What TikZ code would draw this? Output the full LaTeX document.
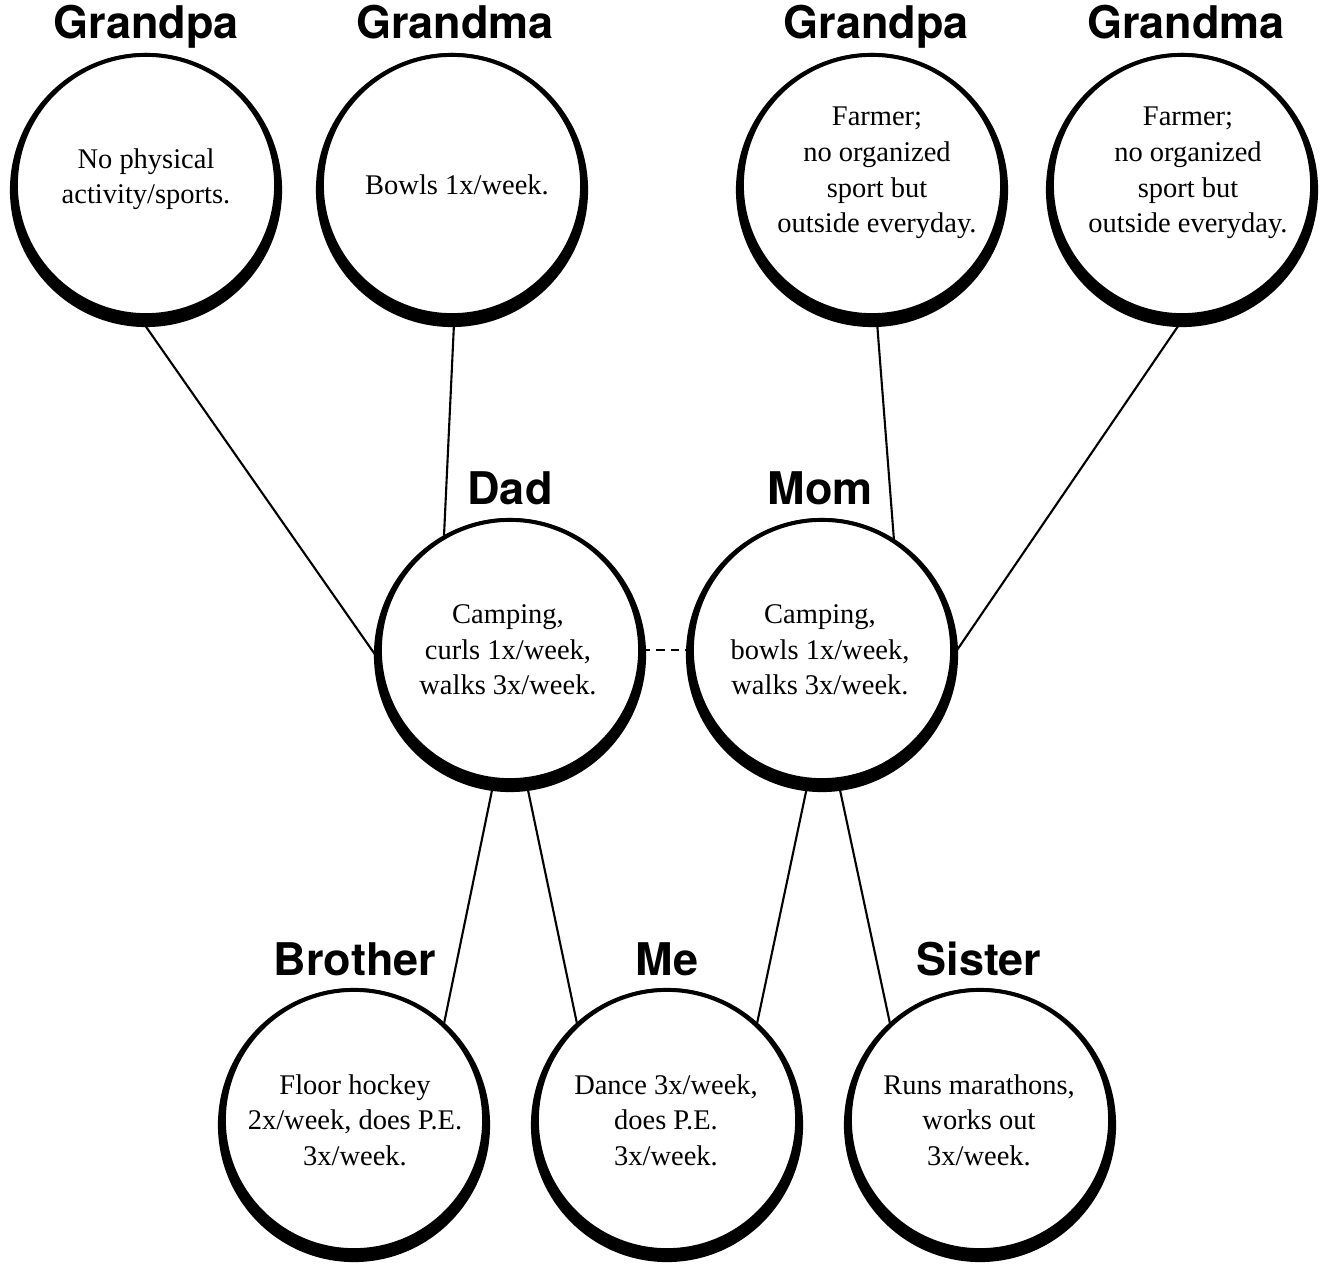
\documentclass[tikz,border=0pt]{standalone}
\usepackage{fontspec}
\setmainfont{Liberation Serif}
\newfontfamily\labfont{TeX Gyre Heros}
\begin{document}
\begin{tikzpicture}[x=0.01cm,y=-0.01cm,
  person/.style={circle,draw=black,line width=1.1pt,fill=white,minimum size=2.6cm,inner sep=0pt},
  txt/.style={align=center,inner sep=0pt,font=\fontsize{8.1}{10.1}\selectfont},
  lab/.style={anchor=base,inner sep=0pt,font=\labfont\bfseries\fontsize{12.8}{14}\selectfont},
  link/.style={line width=0.6pt},
  partner/.style={line width=0.6pt,dash pattern=on 2.3pt off 1.8pt},
  rim/.style={fill=black}]
\useasboundingbox (0,0) rectangle (1325,1264);
% centres
\coordinate (cgpl) at (146,185);
\coordinate (cgml) at (452,185);
\coordinate (cgpr) at (872,185);
\coordinate (cgmr) at (1182,185);
\coordinate (cdad) at (510,650);
\coordinate (cmom) at (822,650);
\coordinate (cbro) at (354,1120);
\coordinate (cme)  at (667,1120);
\coordinate (csis) at (980,1120);
% thick lower rims
\foreach \c in {cgpl,cgml,cgpr,cgmr,cdad,cmom,cbro,cme,csis}{
  \fill[rim] ([yshift=-0.05cm]\c) ellipse [x radius=1.36cm, y radius=1.37cm];
}
% circles
\node[person] (gpl) at (cgpl) {};
\node[person] (gml) at (cgml) {};
\node[person] (gpr) at (cgpr) {};
\node[person] (gmr) at (cgmr) {};
\node[person] (dad) at (cdad) {};
\node[person] (mom) at (cmom) {};
\node[person] (bro) at (cbro) {};
\node[person] (me)  at (cme)  {};
\node[person] (sis) at (csis) {};
% texts
\node[txt] (gplt) at (146,179) {No physical\\activity/sports.};
\node[txt] (gmlt) at (457,185) {Bowls 1x/week.};
\node[txt] (gprt) at (877,173) {Farmer;\\no organized\\sport but\\outside everyday.};
\node[txt] (gmrt) at (1188,173) {Farmer;\\no organized\\sport but\\outside everyday.};
\node[txt] (dadt) at (508,650) {Camping,\\curls 1x/week,\\walks 3x/week.};
\node[txt] (momt) at (820,650) {Camping,\\bowls 1x/week,\\walks 3x/week.};
\node[txt] (brot) at (355,1120) {Floor hockey\\2x/week, does P.E.\\3x/week.};
\node[txt] (met)  at (666,1120) {Dance 3x/week,\\does P.E.\\3x/week.};
\node[txt] (sist) at (979,1120) {Runs marathons,\\works out\\3x/week.};
% labels
\node[lab] (gpll) at (146,39) {Grandpa};
\node[lab] (gmll) at (455,39) {Grandma};
\node[lab] (gprl) at (876,39) {Grandpa};
\node[lab] (gmrl) at (1186,39) {Grandma};
\node[lab] (dadl) at (510,504) {Dad};
\node[lab] (moml) at (820,504) {Mom};
\node[lab] (brol) at (355,975) {Brother};
\node[lab] (mel)  at (667,975) {Me};
\node[lab] (sisl) at (979,975) {Sister};
% connectors
\draw[link] (gpl.267) -- (dad.184);
\draw[link] (gml.271) -- (dad.120);
\draw[link] (gpr.272) -- (mom.57);
\draw[link] (gmr.271) -- (mom.358);
\draw[link] (dad.263) -- (bro.47);
\draw[link] (dad.277) -- (me.133);
\draw[link] (mom.264) -- (me.47);
\draw[link] (mom.277) -- (sis.133);
\draw[partner] (dad.east) -- (mom.west);
\end{tikzpicture}
\end{document}
